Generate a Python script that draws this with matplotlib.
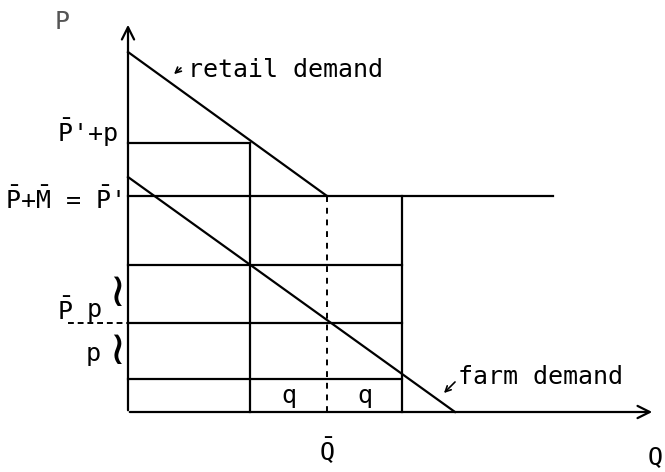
import matplotlib.pyplot as plt

plt.rcParams['mathtext.fontset'] = 'custom'
plt.rcParams['mathtext.rm'] = 'DejaVu Sans Mono'
plt.rcParams['mathtext.it'] = 'DejaVu Sans Mono'

# quantities
Q_bar = 199
Q_left = 122      # Q_bar - q
Q_right = 274     # Q_bar + q
Q_flat_end = 425  # end of the flat retail segment
Q_farm_end = 327  # farm demand hits the Q axis

# prices
P_levels = {'P-p': 33, 'P': 89, 'P+p': 147, "P'": 216, "P'+p": 269}
retail_top = 360
farm_top = 235

mono = 'DejaVu Sans Mono'
fs = 18

fig = plt.figure(figsize=(6.65, 4.72), dpi=100)
ax = fig.add_axes([0, 0, 1, 1])
ax.set_xlim(-128, 537)
ax.set_ylim(-60, 412)
ax.axis('off')

lw = 1.6
k = 'black'

# axes with arrows
ax.annotate('', xy=(0, 390), xytext=(0, -1),
            arrowprops=dict(arrowstyle='->', lw=lw, color=k, mutation_scale=22))
ax.annotate('', xy=(527, 0), xytext=(-1, 0),
            arrowprops=dict(arrowstyle='->', lw=lw, color=k, mutation_scale=22))

# demand curves
ax.plot([0, Q_bar, Q_flat_end], [retail_top, P_levels["P'"], P_levels["P'"]], color=k, lw=lw)
ax.plot([0, Q_farm_end], [farm_top, 0], color=k, lw=lw)

# horizontal guide lines
ax.plot([0, Q_left], [P_levels["P'+p"]] * 2, color=k, lw=lw)
ax.plot([0, Q_bar], [P_levels["P'"]] * 2, color=k, lw=lw)
for key in ['P+p', 'P', 'P-p']:
    ax.plot([0, Q_right], [P_levels[key]] * 2, color=k, lw=lw)
ax.plot([-60, 0], [P_levels['P']] * 2, color=k, lw=1.4, ls=(0, (3, 2)))

# vertical guide lines
ax.plot([Q_left, Q_left], [0, P_levels["P'+p"]], color=k, lw=lw)
ax.plot([Q_right, Q_right], [0, P_levels["P'"]], color=k, lw=lw)
ax.plot([Q_bar, Q_bar], [0, P_levels["P'"]], color=k, lw=1.4, ls=(0, (3, 3)))

# axis labels
ax.text(-66, 390, 'P', fontsize=fs, family=mono, color='#555555', ha='center', va='center')
ax.text(527, -45, 'Q', fontsize=fs, family=mono, ha='center', va='center')
ax.text(Q_bar, -38, r'$\bar{Q}$', fontsize=fs, ha='center', va='center')

# price labels
ax.text(-10, P_levels["P'+p"] + 1, r"$\bar{P}$'+p", fontsize=fs, family=mono,
        ha='right', va='baseline')
ax.text(-7, P_levels["P'"] - 13, r"$\bar{P}$+$\bar{M}$ = $\bar{P}$'", fontsize=fs, family=mono,
        ha='right', va='baseline')
ax.text(-63, P_levels['P'] + 3, r'$\bar{P}$', fontsize=fs, ha='center', va='baseline')
ax.text(-34, P_levels['P'] + 6, 'p', fontsize=fs, family=mono, ha='center', va='baseline')
ax.text(-35, P_levels['P'] - 38, 'p', fontsize=fs, family=mono, ha='center', va='baseline')
ax.text(-11, P_levels['P'] + 30, '\u2240', fontsize=34, family='DejaVu Sans', ha='center', va='center')
ax.text(-11, P_levels['P'] - 28, '\u2240', fontsize=34, family='DejaVu Sans', ha='center', va='center')

# q labels
ax.text((Q_left + Q_bar) / 2, P_levels['P-p'] / 2, 'q', fontsize=fs, family=mono, ha='center', va='center')
ax.text((Q_bar + Q_right) / 2, P_levels['P-p'] / 2, 'q', fontsize=fs, family=mono, ha='center', va='center')

# curve labels with small arrows
ax.annotate('', xy=(44, 336), xytext=(55, 346),
            arrowprops=dict(arrowstyle='->', lw=1.2, color=k, mutation_scale=10))
ax.text(60, 342, 'retail demand', fontsize=fs, family=mono, ha='left', va='center')
ax.annotate('', xy=(314, 17), xytext=(329, 32),
            arrowprops=dict(arrowstyle='->', lw=1.2, color=k, mutation_scale=10))
ax.text(330, 35, 'farm demand', fontsize=fs, family=mono, ha='left', va='center')

fig.savefig('out.png', dpi=100)
